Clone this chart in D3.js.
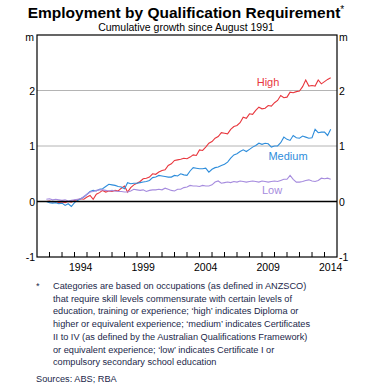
<!DOCTYPE html>
<html>
<head>
<meta charset="utf-8">
<script src="https://cdn.jsdelivr.net/npm/d3@7"></script>
<style>
  body { margin: 0; background: #fff; }
  svg text { font-family: "Liberation Sans", Arial, sans-serif; }
</style>
</head>
<body>
<div id="chart"></div>
<script>
// quarterly, Aug 1991 .. Aug 2014 (cumulative growth, millions)
const high = [
  0.00, 0.01,
  -0.01, 0.00, -0.02, -0.01,
  -0.02, 0.00, -0.01, 0.02,
  0.03, 0.05, 0.04, 0.08,
  0.11, 0.04, 0.13, 0.16,
  0.20, 0.17, 0.19, 0.18,
  0.20, 0.19, 0.24, 0.28,
  0.17, 0.25, 0.30, 0.33,
  0.36, 0.41, 0.42, 0.44,
  0.50, 0.49, 0.53, 0.56,
  0.57, 0.65, 0.68, 0.74,
  0.75, 0.76, 0.78, 0.77,
  0.80, 0.84, 0.83, 0.93,
  0.92, 0.98, 1.05, 1.08,
  1.14, 1.17, 1.24, 1.23,
  1.22, 1.30, 1.35, 1.37,
  1.42, 1.52, 1.50, 1.58,
  1.57, 1.64, 1.70, 1.67,
  1.68, 1.73, 1.72, 1.78,
  1.82, 1.91, 1.87, 1.88,
  1.97, 1.96, 1.98, 1.99,
  2.07, 2.19, 2.08, 2.09,
  2.08, 2.19, 2.12, 2.16,
  2.20, 2.23, 2.31
];
const medium = [
  0.00, -0.02,
  -0.03, -0.02, -0.04, -0.03,
  -0.07, -0.04, -0.09, -0.02,
  0.02, 0.05, 0.08, 0.13,
  0.18, 0.20, 0.19, 0.22,
  0.23, 0.27, 0.31, 0.30,
  0.29, 0.27, 0.26, 0.23,
  0.34, 0.32, 0.33, 0.33,
  0.34, 0.35, 0.36, 0.38,
  0.43, 0.44, 0.47, 0.46,
  0.45, 0.44, 0.44, 0.47,
  0.46, 0.50, 0.48, 0.47,
  0.55, 0.61, 0.60, 0.59,
  0.59, 0.60, 0.53, 0.58,
  0.61, 0.62, 0.65, 0.67,
  0.71, 0.78, 0.84, 0.86,
  0.90, 0.93, 0.90, 0.94,
  0.98, 1.01, 1.05, 1.03,
  1.05, 1.04, 0.98, 1.00,
  1.00, 1.06, 1.16, 1.12,
  1.10, 1.19, 1.15, 1.14,
  1.18, 1.16, 1.14, 1.15,
  1.30, 1.24, 1.25, 1.25,
  1.19, 1.30, 1.27
];
const low = [
  0.04, 0.05,
  0.03, 0.04, 0.03, 0.02,
  0.03, 0.01, 0.02, 0.03,
  0.04, 0.05, 0.09, 0.13,
  0.17, 0.18, 0.20, 0.21,
  0.21, 0.20, 0.19, 0.20,
  0.19, 0.18, 0.18, 0.17,
  0.17, 0.19, 0.22, 0.21,
  0.20, 0.21, 0.18, 0.20,
  0.21, 0.21, 0.22, 0.21,
  0.24, 0.22, 0.20, 0.19,
  0.22, 0.22, 0.25, 0.26,
  0.29, 0.28, 0.28, 0.27,
  0.29, 0.28, 0.28, 0.30,
  0.35, 0.37, 0.33, 0.34,
  0.35, 0.34, 0.36, 0.35,
  0.37, 0.36, 0.35, 0.36,
  0.37, 0.36, 0.35, 0.37,
  0.36, 0.35, 0.36, 0.37,
  0.36, 0.38, 0.40, 0.40,
  0.47, 0.40, 0.35, 0.35,
  0.36, 0.38, 0.39, 0.37,
  0.36, 0.38, 0.42, 0.41,
  0.42, 0.40, 0.38
];
const yTicks = [-1, 0, 1, 2];
const yearLabels = [1994, 1999, 2004, 2009, 2014];
const footnote = [
  "Categories are based on occupations (as defined in ANZSCO)",
  "that require skill levels commensurate with certain levels of",
  "education, training or experience; \u2018high\u2019 indicates Diploma or",
  "higher or equivalent experience; \u2018medium\u2019 indicates Certificates",
  "II to IV (as defined by the Australian Qualifications Framework)",
  "or equivalent experience;  \u2018low\u2019 indicates Certificate I or",
  "compulsory secondary school education"
];

const red = "#e8373e";
const blue = "#2e8ddb";
const purple = "#a68cde";
const navy = "#1b1f4a";

const width = 373, height = 389;
const mLeft = 37, mRight = 337, mTop = 35, mBottom = 257;

const dates = d3.timeMonth.every(3).range(new Date(1991, 7, 15), new Date(2014, 8, 1));
const series = [
  { name: "High", values: high, color: red, lx: 268, ly: 86 },
  { name: "Medium", values: medium, color: blue, lx: 288, ly: 160 },
  { name: "Low", values: low, color: purple, lx: 272, ly: 194 }
];

const x = d3.scaleTime()
  .domain([new Date(1991, 0, 1), new Date(2015, 0, 1)])
  .range([mLeft, mRight]);
const y = d3.scaleLinear().domain([-1, 3]).range([mBottom, mTop]);

const svg = d3.select("#chart").append("svg")
  .attr("width", width)
  .attr("height", height);

// title
const title = svg.append("text")
  .attr("x", 186).attr("y", 18)
  .attr("text-anchor", "middle")
  .style("font-size", "15.5px").style("font-weight", "bold");
title.append("tspan").text("Employment by Qualification Requirement");
title.append("tspan")
  .attr("dy", -5)
  .style("font-size", "10px").style("font-weight", "normal")
  .text("*");
svg.append("text")
  .attr("x", 186).attr("y", 31)
  .attr("text-anchor", "middle")
  .style("font-size", "10.5px")
  .text("Cumulative growth since August 1991");

// gridlines
svg.append("g")
  .selectAll("line")
  .data(yTicks.filter((d) => d > 0))
  .enter()
  .append("line")
  .attr("x1", mLeft).attr("x2", mRight)
  .attr("y1", (d) => y(d)).attr("y2", (d) => y(d))
  .attr("stroke", "#b4b4b4").attr("stroke-width", 1);

// lines
const line = d3.line()
  .x((d, i) => x(dates[i]))
  .y((d) => y(d));

svg.append("g")
  .selectAll("path")
  .data(series)
  .enter()
  .append("path")
  .attr("d", (d) => line(d.values))
  .attr("fill", "none")
  .attr("stroke", (d) => d.color)
  .attr("stroke-width", 1.1);

svg.append("g")
  .selectAll("text")
  .data(series)
  .enter()
  .append("text")
  .attr("x", (d) => d.lx).attr("y", (d) => d.ly)
  .attr("text-anchor", "middle")
  .attr("fill", (d) => d.color)
  .style("font-size", "11px")
  .text((d) => d.name);

// zero line
svg.append("line")
  .attr("x1", mLeft).attr("x2", mRight)
  .attr("y1", y(0)).attr("y2", y(0))
  .attr("stroke", "#000").attr("stroke-width", 1.3);

// frame
svg.append("rect")
  .attr("x", mLeft).attr("y", mTop)
  .attr("width", mRight - mLeft).attr("height", mBottom - mTop)
  .attr("fill", "none").attr("stroke", "#000").attr("stroke-width", 1.2);

// year ticks (inward)
const years = d3.timeYear.range(new Date(1992, 0, 1), new Date(2015, 0, 1));
svg.append("g")
  .selectAll("line")
  .data(years)
  .enter()
  .append("line")
  .attr("x1", (d) => x(d)).attr("x2", (d) => x(d))
  .attr("y1", mBottom).attr("y2", mBottom - 5)
  .attr("stroke", "#000").attr("stroke-width", 1);

svg.append("g")
  .selectAll("text")
  .data(yearLabels)
  .enter()
  .append("text")
  .attr("x", (d) => x(new Date(d, 6, 1)))
  .attr("y", mBottom + 14)
  .attr("text-anchor", "middle")
  .style("font-size", "10.5px")
  .text((d) => d);

// y labels both sides
const yl = svg.append("g").style("font-size", "10.5px");
yl.selectAll(".l")
  .data(yTicks)
  .enter()
  .append("text")
  .attr("x", mLeft - 2).attr("y", (d) => y(d) + 4)
  .attr("text-anchor", "end")
  .text((d) => d);
yl.selectAll(".r")
  .data(yTicks)
  .enter()
  .append("text")
  .attr("x", mRight + 2).attr("y", (d) => y(d) + 4)
  .attr("text-anchor", "start")
  .text((d) => d);
yl.append("text").attr("x", mLeft - 3).attr("y", mTop + 6).attr("text-anchor", "end").text("m");
yl.append("text").attr("x", mRight + 2).attr("y", mTop + 6).text("m");

// footnote
const fn = svg.append("g").style("font-size", "9.2px").attr("fill", navy);
fn.append("text").attr("x", 36).attr("y", 289).text("*");
fn.selectAll(".f")
  .data(footnote)
  .enter()
  .append("text")
  .attr("x", 53)
  .attr("y", (d, i) => 289 + i * 12.7)
  .text((d) => d);
fn.append("text").attr("x", 36).attr("y", 382).text("Sources: ABS; RBA");
</script>
</body>
</html>
